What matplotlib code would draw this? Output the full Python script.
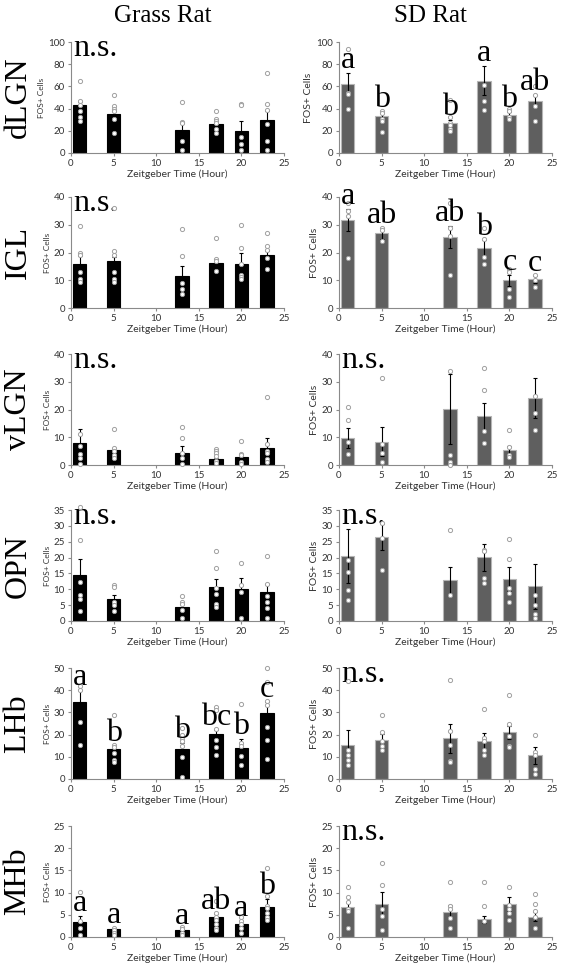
import matplotlib
matplotlib.use("Agg")
import matplotlib.pyplot as plt

plt.rcParams['font.family'] = ['Lato', 'DejaVu Sans']

zt = [1, 5, 13, 17, 20, 23]
regions = ['dLGN', 'IGL', 'vLGN', 'OPN', 'LHb', 'MHb']
y_max = [100, 40, 40, 35, 50, 25]
y_step = [20, 10, 10, 5, 10, 5]

# Grass rat
grass_mean = {
    'dLGN': [43, 35, 21, 26, 20, 30],
    'IGL': [15.8, 17, 11.5, 16.2, 16, 19.2],
    'vLGN': [8.1, 5.3, 4.3, 2.2, 3, 6.1],
    'OPN': [14.6, 6.9, 4.3, 10.7, 10, 9],
    'LHb': [34.6, 13.4, 13.4, 20.1, 14, 29.9],
    'MHb': [3.4, 1.7, 1.5, 4.4, 2.9, 6.7],
}
grass_sem = {
    'dLGN': [3, 3, 6, 3, 9, 8],
    'IGL': [3, 1.5, 3.5, 1.5, 3.8, 1.5],
    'vLGN': [5, 1, 2.4, 0.5, 1, 3.5],
    'OPN': [5, 1.2, 1, 2.6, 3.5, 2.7],
    'LHb': [5.7, 1.5, 3, 2, 4.2, 4.7],
    'MHb': [1.3, 0.3, 0.3, 0.8, 0.6, 1.8],
}
grass_points = {
    'dLGN': [[65, 47, 43, 38, 32, 29], [52, 42, 40, 38, 31, 18], [46, 28, 27, 11, 3],
             [38, 31, 29, 27, 22, 18], [44, 43, 14, 8, 3], [72, 44, 39, 26, 11, 3]],
    'IGL': [[29.5, 20, 19, 13, 10.5, 9.5], [36, 20.5, 19, 13, 10.5, 9.5], [28.5, 18.7, 9, 7, 5],
            [25.3, 17.5, 17, 13.4], [30, 21.5, 16, 12, 11, 10.5], [27, 22.5, 21, 18, 14]],
    'vLGN': [[11, 7, 4, 2.5, 0.5], [13, 6.3, 5, 3.5, 2.5], [13.8, 9.8, 4.5, 2.5, 0.3],
             [5.8, 5.1, 4.2, 3.2, 1.5, 0.8], [8.7, 4, 3.5, 1, 0.5], [24.4, 7.5, 5, 4.5, 2, 1]],
    'OPN': [[36, 25.5, 12.2, 8.3, 6.8, 3.2], [11.2, 10.7, 6, 5, 3.3], [8, 6, 5.3, 3.5, 1],
            [22, 16.7, 10.3, 8.5, 5.3, 4.3], [18.4, 11.3, 9, 1], [20.5, 11.8, 8, 6, 4, 1]],
    'LHb': [[42, 40, 25.5, 15.5], [29, 15.5, 14.5, 11.5, 8.5, 7.5], [23, 20, 18, 17, 15, 10, 1],
            [32.3, 31, 22.5, 17.5, 14.5, 11], [34, 16, 15, 10.5, 6.5], [50, 43.5, 35, 33.5, 23.5, 17.5, 9]],
    'MHb': [[10.2, 3.5, 2, 0.5], [2, 1.6, 1, 0.5], [2.2, 1.7, 1, 0.5],
            [8, 5.3, 4.5, 3.8, 3, 2, 1.5], [4.6, 3.5, 3, 2, 1], [15.5, 9.2, 7, 6.5, 5.5, 4.5, 3.8]],
}
grass_letters = {
    'dLGN': 'n.s.', 'IGL': 'n.s.', 'vLGN': 'n.s.', 'OPN': 'n.s.',
    'LHb': ['a', 'b', 'b', 'bc', 'b', 'c'],
    'MHb': ['a', 'a', 'a', 'ab', 'a', 'b'],
}

# SD rat
sd_mean = {
    'dLGN': [62, 33, 27, 65, 34, 47],
    'IGL': [31.8, 27, 25.7, 21.6, 10, 10.3],
    'vLGN': [9.7, 8.4, 20.1, 17.5, 5.3, 24.3],
    'OPN': [20.5, 26.5, 12.8, 20.1, 13.3, 10.9],
    'LHb': [15.2, 17.6, 18.3, 17, 21, 10.7],
    'MHb': [6.8, 7.5, 5.7, 4, 7.5, 4.6],
}
sd_sem = {
    'dLGN': [10, 4, 3, 13, 3, 5],
    'IGL': [4, 2, 4, 3, 2, 1.3],
    'vLGN': [3.5, 5.3, 12.7, 5, 1.5, 7.2],
    'OPN': [8.6, 4, 4.3, 4.3, 3.8, 7],
    'LHb': [6.9, 2.5, 6.5, 3.5, 3, 3.9],
    'MHb': [1, 2.6, 1.5, 0.8, 1.6, 1],
}
sd_points = {
    'dLGN': [[94, 54, 53, 40], [38, 36, 31, 29, 19], [48, 32, 27, 25, 22, 20],
             [61, 47, 39], [40, 38, 32, 31], [60, 52, 42, 29]],
    'IGL': [[38, 35, 33, 18], [29, 28, 24], [38, 29, 26, 12],
            [29, 25, 18.5, 16], [14, 13, 7, 4], [12, 10, 7.5]],
    'vLGN': [[21, 16.3, 8.3, 4], [31.5, 7.5, 4.3, 1], [34, 3.5, 1.1, 0],
             [35, 27, 12.2, 7.8], [12.5, 6.5, 3.5, 3], [25, 18.7, 12.5]],
    'OPN': [[19.3, 15.6, 9.8, 6.7], [30.8, 26.3, 16.2], [28.7, 8.3],
            [22.5, 22, 13.5, 11.9], [26, 19.5, 10.3, 8.8, 6], [8.1, 5, 2.3, 0.8]],
    'LHb': [[44, 13, 11, 8.5, 6.3], [28.8, 21.3, 17, 15, 13], [44.5, 21.8, 15.5, 8.2, 7.8],
            [31.4, 18.5, 17, 13, 11], [38, 25, 19.5, 15, 14.5], [19.7, 12, 11, 4.3, 2.2]],
    'MHb': [[11.2, 9.1, 7.9, 6.3, 5.8, 2], [16.6, 11.7, 6.3, 4.7, 1.6], [12.3, 7, 6.3, 4.2, 2],
            [12.3, 7, 3.5], [11.2, 7.2, 6.3, 5.3, 3.8], [9.6, 7.5, 5.8, 4.5, 2]],
}
sd_letters = {
    'dLGN': ['a', 'b', 'b', 'a', 'b', 'ab'],
    'IGL': ['a', 'ab', 'ab', 'b', 'c', 'c'],
    'vLGN': 'n.s.', 'OPN': 'n.s.', 'LHb': 'n.s.', 'MHb': 'n.s.',
}

W, H = 563, 975
fig = plt.figure(figsize=(W / 100, H / 100), dpi=100)

row_top = [42, 197, 354, 510, 668, 826]
ax_h = 111
col_left = [71, 339]
ax_w = 213

serif = 'Liberation Serif'


def draw_panel(ax, means, sems, points, letters, ymax, step, bar_color, edge_color, ylab_size):
    ax.bar(zt, means, width=1.6, color=bar_color, edgecolor=edge_color, linewidth=0.8, zorder=2)
    ax.errorbar(zt, means, yerr=sems, fmt='none', ecolor='black', elinewidth=0.8,
                capsize=1.5, capthick=0.8, zorder=3)
    for x, pts in zip(zt, points):
        ax.plot([x] * len(pts), pts, 'o', ms=3, mfc='white', mec='#a0a0a0', mew=0.7,
                clip_on=False, zorder=4)
    ax.set_xlim(0, 25)
    ax.set_ylim(0, ymax)
    ax.set_xticks(range(0, 26, 5))
    ax.set_yticks(range(0, ymax + 1, step))
    for s in ['top', 'right']:
        ax.spines[s].set_visible(False)
    for s in ['left', 'bottom']:
        ax.spines[s].set_color('#8a8a8a')
        ax.spines[s].set_linewidth(0.8)
    ax.tick_params(length=2.5, width=0.8, color='#8a8a8a', labelsize=7, labelcolor='#333333', pad=2)
    ax.set_xlabel('Zeitgeber Time (Hour)', fontsize=7.5, color='#333333', labelpad=1)
    ax.set_ylabel('FOS+ Cells', fontsize=ylab_size, color='#333333', labelpad=2)
    if letters == 'n.s.':
        ax.text(0.01, 0.87, 'n.s.', transform=ax.transAxes, family=serif, fontsize=23,
                va='baseline', ha='left')
    else:
        for x, m, e, lab in zip(zt, means, sems, letters):
            ax.text(x, m + e + 0.045 * ymax, lab, family=serif, fontsize=23,
                    ha='center', va='baseline', zorder=5)


for i, reg in enumerate(regions):
    top = row_top[i]
    for j in range(2):
        ax = fig.add_axes([col_left[j] / W, 1 - (top + ax_h) / H, ax_w / W, ax_h / H])
        if j == 0:
            draw_panel(ax, grass_mean[reg], grass_sem[reg], grass_points[reg], grass_letters[reg],
                       y_max[i], y_step[i], 'black', 'black', 6)
        else:
            draw_panel(ax, sd_mean[reg], sd_sem[reg], sd_points[reg], sd_letters[reg],
                       y_max[i], y_step[i], '#5f5f5f', '#b5b5b5', 7.5)
    fig.text(18 / W, 1 - (top + ax_h / 2) / H, reg, family=serif, fontsize=23,
             rotation=90, ha='center', va='center')

fig.text(163 / W, 1 - 16 / H, 'Grass Rat', family=serif, fontsize=18, ha='center', va='center')
fig.text(430 / W, 1 - 16 / H, 'SD Rat', family=serif, fontsize=18, ha='center', va='center')

fig.savefig('out.png', dpi=100)
